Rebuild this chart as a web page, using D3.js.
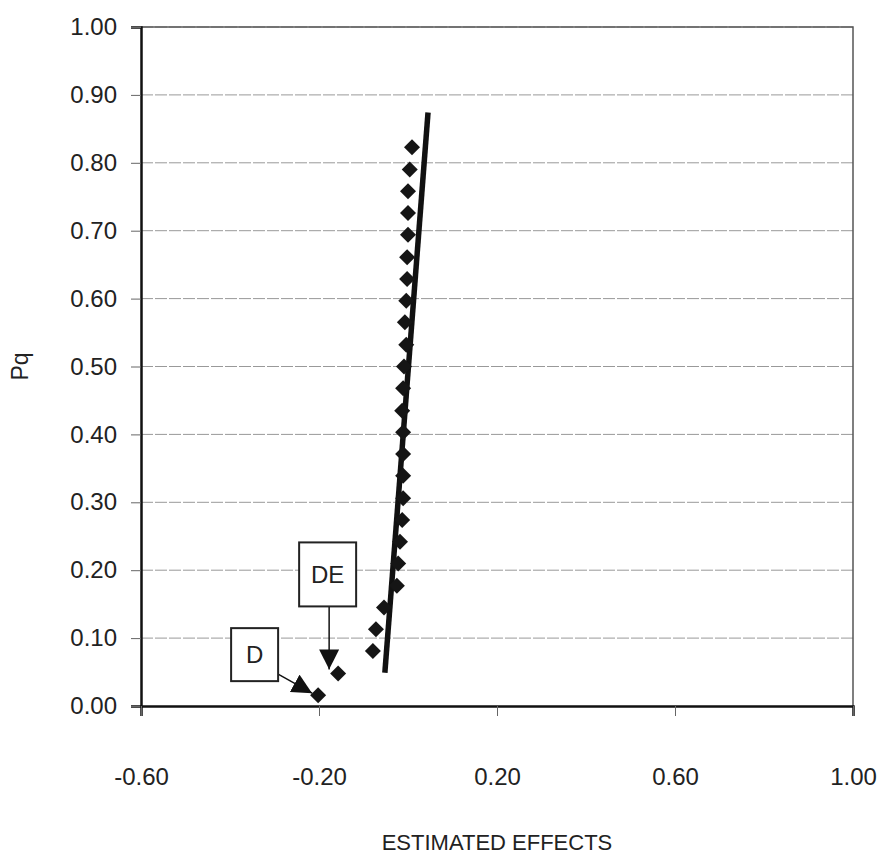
<!DOCTYPE html>
<html>
<head>
<meta charset="utf-8">
<script src="https://cdn.jsdelivr.net/npm/d3@7"></script>
<style>
    body { margin: 0; background: #fff; }
    text { font-family: "Liberation Sans", Arial, sans-serif; fill: #222; }
</style>
</head>
<body>
<svg id="chart" width="881" height="859"></svg>
<script>
// normal probability plot of the estimated effects
var pq = [0.016, 0.048, 0.081, 0.113, 0.145, 0.177, 0.210, 0.242, 0.274, 0.306,
          0.339, 0.371, 0.403, 0.435, 0.468, 0.500, 0.532, 0.565, 0.597, 0.629,
          0.661, 0.694, 0.726, 0.758, 0.790, 0.823];
var effects = [-0.202, -0.157, -0.079, -0.072, -0.054, -0.025, -0.022, -0.018, -0.013, -0.011,
               -0.011, -0.011, -0.011, -0.013, -0.011, -0.009, -0.004, -0.007, -0.004, -0.002,
               -0.002, 0.000, 0.000, 0.000, 0.004, 0.009];
var fitX = [-0.052, 0.045];
var fitY = [0.049, 0.874];
var xTicks = [-0.60, -0.20, 0.20, 0.60, 1.00];
var yTicks = [0, 0.1, 0.2, 0.3, 0.4, 0.5, 0.6, 0.7, 0.8, 0.9, 1.0];
var callouts = ['D', 'DE'];   // label for the 1st and 2nd point

var svg = d3.select('#chart');

var x = d3.scaleLinear().domain([-0.6, 1.0]).range([141, 853]);
var y = d3.scaleLinear().domain([0, 1]).range([706, 27]);

function fmt(d) { return d.toFixed(2); }   // plain hyphen, like the original

// gridlines
svg.append('g')
    .selectAll('line')
    .data(yTicks.slice(1))
    .enter()
    .append('line')
        .attr('x1', x(-0.6))
        .attr('x2', x(1.0))
        .attr('y1', function(d) { return y(d); })
        .attr('y2', function(d) { return y(d); })
        .attr('stroke', '#999')
        .attr('stroke-width', 1)
        .attr('stroke-dasharray', '12,2');

// plot box (right + top)
svg.append('path')
    .attr('d', 'M' + x(-0.6) + ',' + y(1) + 'H' + x(1.0) + 'V' + y(0))
    .attr('fill', 'none')
    .attr('stroke', '#555')
    .attr('stroke-width', 1.5);

var yAxis = svg.append('g')
    .attr('transform', 'translate(' + x(-0.6) + ',0)')
    .call(d3.axisLeft(y)
        .tickValues(yTicks)
        .tickSize(10)
        .tickPadding(14)
        .tickFormat(fmt));
yAxis.select('.domain').attr('stroke', '#111').attr('stroke-width', 2.5);
yAxis.selectAll('.tick line').attr('stroke', '#666');
yAxis.selectAll('text').style('font-size', '24px').attr('fill', '#222');

var xAxis = svg.append('g')
    .attr('transform', 'translate(0,' + y(0) + ')')
    .call(d3.axisBottom(x)
        .tickValues(xTicks)
        .tickSize(10)
        .tickPadding(52)
        .tickFormat(fmt));
xAxis.select('.domain').attr('stroke', '#111').attr('stroke-width', 2.5);
xAxis.selectAll('.tick line').attr('stroke', '#666');
xAxis.selectAll('text').style('font-size', '24px').attr('fill', '#222');

// axis titles
svg.append('text')
    .attr('x', (x(-0.6) + x(1.0)) / 2)
    .attr('y', 850)
    .attr('text-anchor', 'middle')
    .style('font-size', '22px')
    .text('ESTIMATED EFFECTS');

svg.append('text')
    .attr('transform', 'translate(28,' + (y(0) + y(1)) / 2 + ') rotate(-90)')
    .attr('text-anchor', 'middle')
    .style('font-size', '23px')
    .text('Pq');

// fitted line
svg.append('line')
    .attr('x1', x(fitX[0]))
    .attr('y1', y(fitY[0]))
    .attr('x2', x(fitX[1]))
    .attr('y2', y(fitY[1]))
    .attr('stroke', '#111')
    .attr('stroke-width', 5.5);

// points
svg.append('g')
    .selectAll('path')
    .data(pq)
    .enter()
    .append('path')
        .attr('d', d3.symbol(d3.symbolSquare, 128))
        .attr('transform', function(d, i) {
            return 'translate(' + x(effects[i]) + ',' + y(d) + ') rotate(45)';
        })
        .attr('fill', '#151515');

// call-out boxes with arrows
svg.append('defs').append('marker')
    .attr('id', 'head')
    .attr('viewBox', '0 0 20 20')
    .attr('refX', 20)
    .attr('refY', 10)
    .attr('markerWidth', 20)
    .attr('markerHeight', 20)
    .attr('markerUnits', 'userSpaceOnUse')
    .attr('orient', 'auto')
    .append('path')
        .attr('d', 'M0,0L20,10L0,20Z')
        .attr('fill', '#111');

function callout(name, i, box, from, tipDx, tipDy) {
    var px = x(effects[i]), py = y(pq[i]);
    var g = svg.append('g');
    g.append('line')
        .attr('x1', px + from[0])
        .attr('y1', py + from[1])
        .attr('x2', px + tipDx)
        .attr('y2', py + tipDy)
        .attr('stroke', '#111')
        .attr('stroke-width', 1.5)
        .attr('marker-end', 'url(#head)');
    g.append('rect')
        .attr('x', px + box[0])
        .attr('y', py + box[1])
        .attr('width', box[2])
        .attr('height', box[3])
        .attr('fill', '#fff')
        .attr('stroke', '#222')
        .attr('stroke-width', 2);
    g.append('text')
        .attr('x', px + box[0] + box[2] / 2)
        .attr('y', py + box[1] + box[3] / 2)
        .attr('dy', '0.36em')
        .attr('text-anchor', 'middle')
        .style('font-size', '24px')
        .text(name);
}

callout(callouts[0], 0, [-87, -67, 47, 53], [-40, -21], -6, -2);
callout(callouts[1], 1, [-39, -131, 57, 64], [-9, -67], -9, -4);
</script>
</body>
</html>
